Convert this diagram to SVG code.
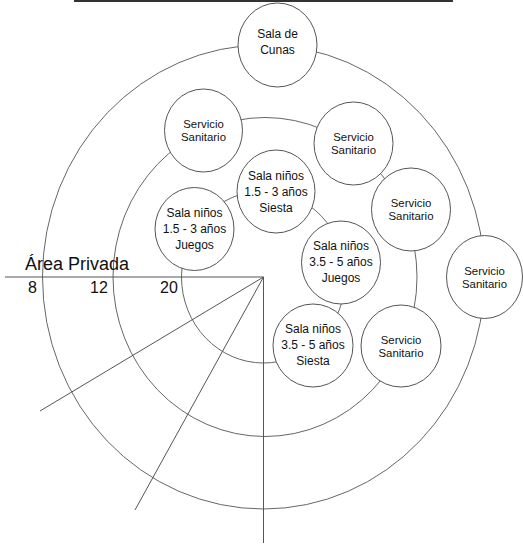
<svg xmlns="http://www.w3.org/2000/svg" width="523" height="546" viewBox="0 0 523 546">
<style>
.ring{fill:none;stroke:#666;stroke-width:1}
.ax{fill:none;stroke:#555;stroke-width:1}
.node ellipse{fill:#fff;stroke:#555;stroke-width:1}
.node text{font-family:"Liberation Sans",Arial,sans-serif;font-size:12px;fill:#111;text-anchor:middle}
.node text.ss{font-size:11.4px}
.lbl{font-family:"Liberation Sans",Arial,sans-serif;fill:#111}
</style>
<rect x="74" y="0" width="379" height="2" fill="#333"/>
<g id="connectors">
<ellipse class="ring" cx="263.5" cy="277" rx="221" ry="232"/>
<ellipse class="ring" cx="265" cy="277" rx="152" ry="159.5"/>
<ellipse class="ring" cx="263.5" cy="277" rx="82" ry="86"/>
<line class="ax" x1="5" y1="277" x2="263.5" y2="277"/>
<line class="ax" x1="263.5" y1="277" x2="263.5" y2="543"/>
<line class="ax" x1="263.5" y1="277" x2="40" y2="411"/>
<line class="ax" x1="263.5" y1="277" x2="135" y2="510"/>
</g>
<g id="labels">
<text class="lbl" x="25" y="270" font-size="18">Área Privada</text>
<text class="lbl" x="28" y="293" font-size="16">8</text>
<text class="lbl" x="90" y="293" font-size="16">12</text>
<text class="lbl" x="160" y="293" font-size="16">20</text>
</g>
<g id="sala-cunas" class="node">
<ellipse cx="277.5" cy="45" rx="39.5" ry="42"/>
<text x="277.5" y="37.5">Sala de</text>
<text x="277.5" y="54">Cunas</text>
</g>
<g id="ss-top-left" class="node">
<ellipse cx="203.5" cy="130.5" rx="39" ry="41.5"/>
<text class="ss" x="203.5" y="128">Servicio</text>
<text class="ss" x="203.5" y="141">Sanitario</text>
</g>
<g id="ss-top-right" class="node">
<ellipse cx="353.5" cy="143.5" rx="39.5" ry="41.5"/>
<text class="ss" x="353.5" y="141">Servicio</text>
<text class="ss" x="353.5" y="154">Sanitario</text>
</g>
<g id="ss-right-mid" class="node">
<ellipse cx="411" cy="209.5" rx="39.5" ry="41.5"/>
<text class="ss" x="411" y="207">Servicio</text>
<text class="ss" x="411" y="220">Sanitario</text>
</g>
<g id="ss-far-right" class="node">
<ellipse cx="484.5" cy="277" rx="38" ry="41.5"/>
<text class="ss" x="484.5" y="274.5">Servicio</text>
<text class="ss" x="484.5" y="287.5">Sanitario</text>
</g>
<g id="ss-bottom" class="node">
<ellipse cx="401" cy="346" rx="40" ry="41"/>
<text class="ss" x="401" y="343.5">Servicio</text>
<text class="ss" x="401" y="356.5">Sanitario</text>
</g>
<g id="sala-15-siesta" class="node">
<ellipse cx="276" cy="191.5" rx="39" ry="41.5"/>
<text x="276" y="179.5">Sala niños</text>
<text x="276" y="195.5">1.5 - 3 años</text>
<text x="276" y="211.5">Siesta</text>
</g>
<g id="sala-15-juegos" class="node">
<ellipse cx="194.5" cy="229" rx="39.5" ry="41.5"/>
<text x="194.5" y="217">Sala niños</text>
<text x="194.5" y="233">1.5 - 3 años</text>
<text x="194.5" y="249">Juegos</text>
</g>
<g id="sala-35-juegos" class="node">
<ellipse cx="341" cy="262.5" rx="39.5" ry="41.5"/>
<text x="341" y="249.5">Sala niños</text>
<text x="341" y="265.5">3.5 - 5 años</text>
<text x="341" y="281.5">Juegos</text>
</g>
<g id="sala-35-siesta" class="node">
<ellipse cx="313" cy="345.5" rx="40" ry="41.5"/>
<text x="313" y="333">Sala niños</text>
<text x="313" y="349">3.5 - 5 años</text>
<text x="313" y="365">Siesta</text>
</g>
</svg>
